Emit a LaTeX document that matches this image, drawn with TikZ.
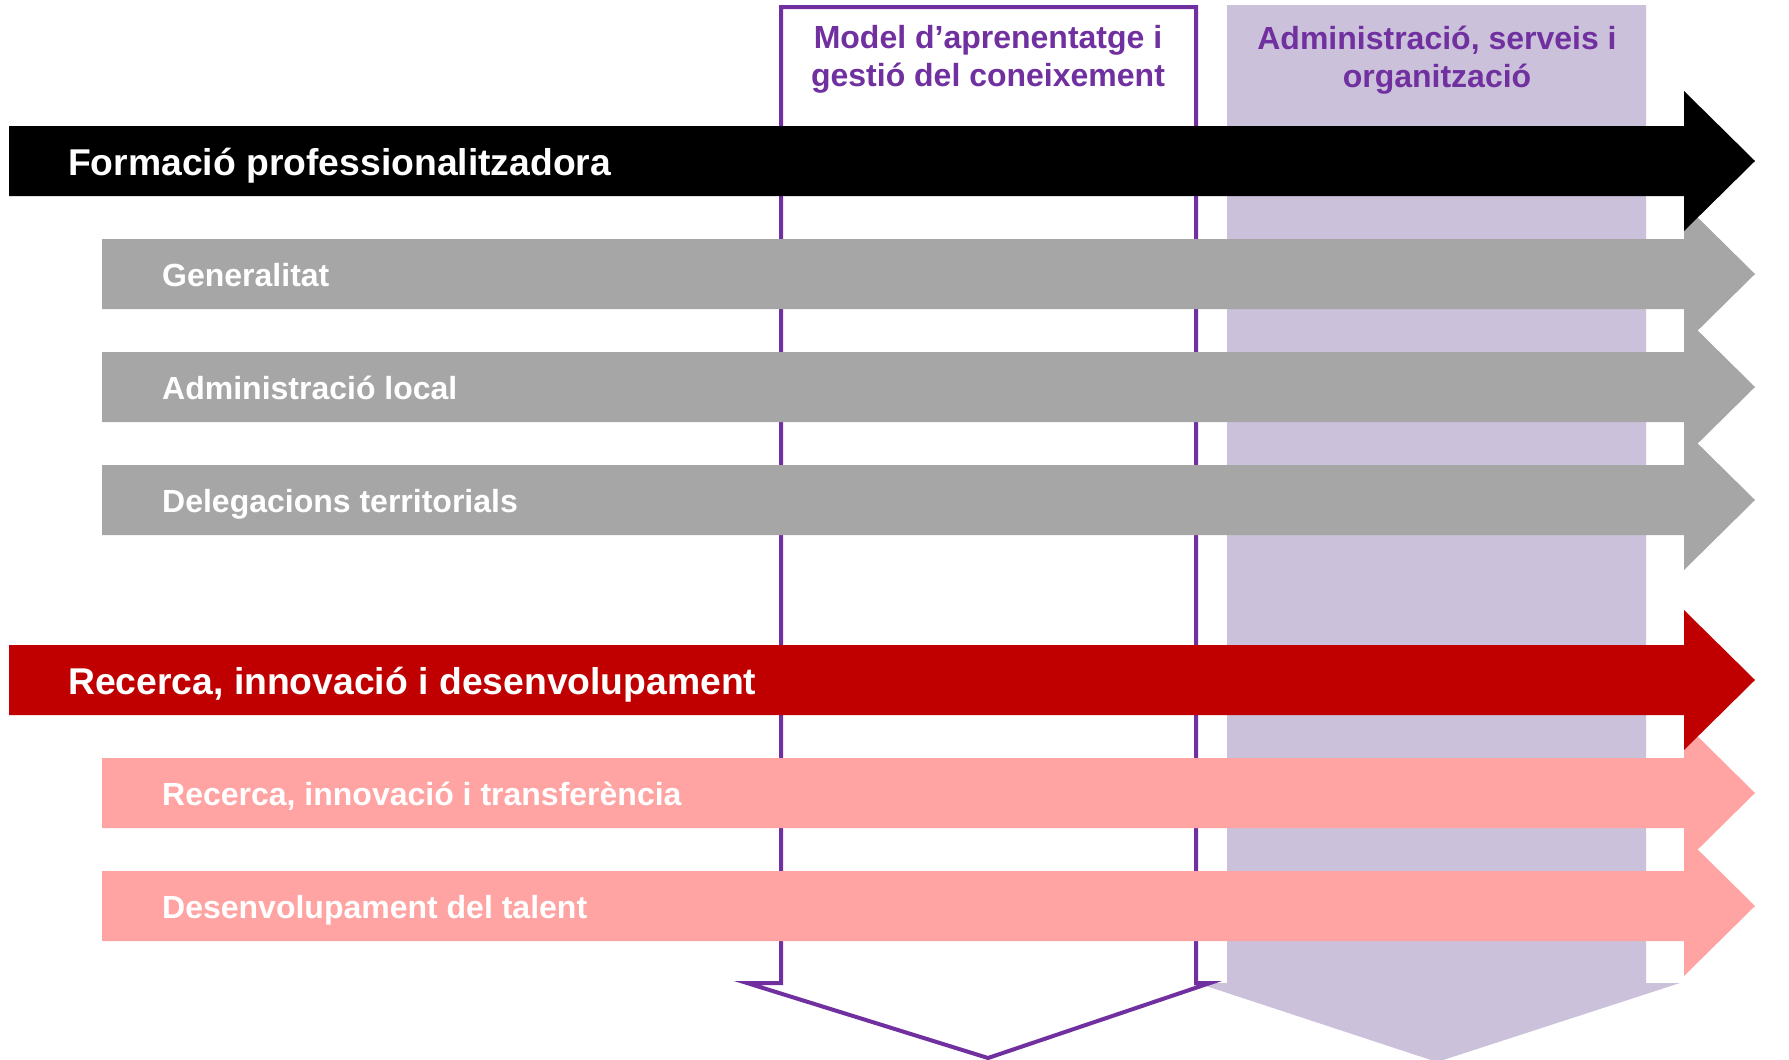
\documentclass[tikz,border=0pt]{standalone}
\usepackage{fontspec}
\setmainfont{Liberation Sans}
\definecolor{mpurple}{HTML}{7030A0}
\definecolor{mlav}{HTML}{CCC1DA}
\definecolor{mgray}{HTML}{A6A6A6}
\definecolor{mred}{HTML}{C00000}
\definecolor{mpink}{HTML}{FFA3A3}
\newcommand\myarrow[3]{%
  \fill[#1] (#2,#3-35) -- (1684,#3-35) -- (1684,#3-70) -- (1755,#3)
    -- (1684,#3+70) -- (1684,#3+35) -- (#2,#3+35) -- cycle;}
\begin{document}
\begin{tikzpicture}[x=1pt,y=-1pt,
  mainlabel/.style={anchor=base west, inner sep=0pt, text=white,
    font=\fontsize{37.3}{44}\selectfont\bfseries},
  sublabel/.style={anchor=base west, inner sep=0pt, text=white,
    font=\fontsize{32}{38}\selectfont\bfseries},
  header/.style={anchor=north, inner sep=0pt, align=center, text=mpurple,
    font=\fontsize{32}{38}\selectfont\bfseries},
  colframe/.style={draw=mpurple, line width=4pt, line join=miter}]
\useasboundingbox[fill=white] (0,0) rectangle (1789,1060);
% columns
\fill[mlav] (1227,5) -- (1646,5) -- (1646,983) -- (1680,983) -- (1437,1062)
  -- (1197,983) -- (1227,983) -- cycle;
\draw[colframe] (781,7) -- (1196,7) -- (1196,983) -- (1210,983) -- (988,1058)
  -- (747,983) -- (781,983) -- cycle;
\node[header] (h1) at (988,25.5) {Model d’aprenentatge i\\gestió del coneixement};
\node[header] (h2) at (1437,25.5) {Administració, serveis i\\organització};
% arrows
\myarrow{mgray}{102}{500}
\myarrow{mgray}{102}{387}
\myarrow{mgray}{102}{274}
\myarrow{black}{9}{161}
\myarrow{mpink}{102}{906}
\myarrow{mpink}{102}{793}
\myarrow{mred}{9}{680}
% labels
\node[mainlabel] (l1) at (68,175) {Formació professionalitzadora};
\node[sublabel] (l2) at (162,286) {Generalitat};
\node[sublabel] (l3) at (162,399) {Administració local};
\node[sublabel] (l4) at (162,512) {Delegacions territorials};
\node[mainlabel] (l5) at (68,694) {Recerca, innovació i desenvolupament};
\node[sublabel] (l6) at (162,805) {Recerca, innovació i transferència};
\node[sublabel] (l7) at (162,918) {Desenvolupament del talent};
\end{tikzpicture}
\end{document}
